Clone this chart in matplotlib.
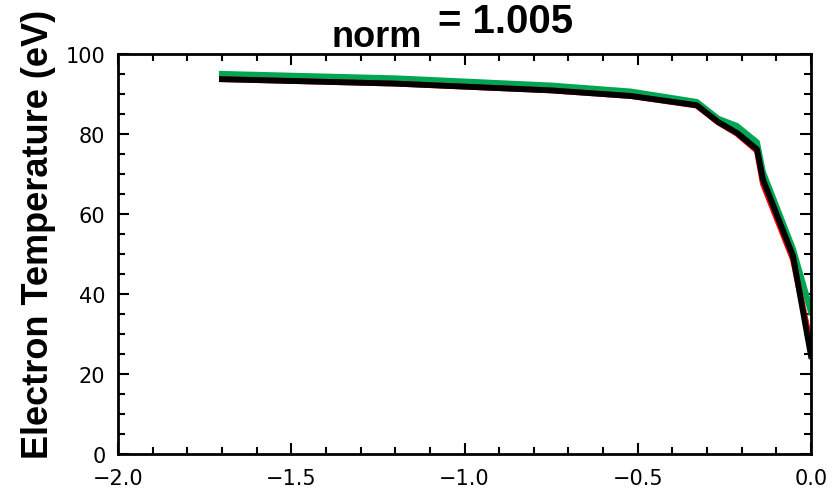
import matplotlib
matplotlib.use('Agg')
import matplotlib.pyplot as plt
from matplotlib.ticker import MultipleLocator
import numpy as np

# profile points (distance, electron temperature in eV)
x = [-1.70, -1.20, -0.75, -0.52, -0.33, -0.268, -0.214, -0.156, -0.139, -0.052, 0.0]
te_green = [95.0, 93.9, 92.1, 90.6, 88.0, 83.8, 82.0, 77.9, 70.5, 51.2, 35.5]
te_red = [93.7, 92.6, 90.9, 89.5, 87.1, 82.9, 80.1, 75.8, 67.6, 48.6, 27.0]
te_black = [93.7, 92.6, 90.9, 89.5, 87.2, 83.0, 80.3, 76.2, 68.7, 49.5, 24.5]

W, H = 834, 489
fig = plt.figure(figsize=(W/100, H/100), dpi=100)
ax = fig.add_axes([118/W, 1-455/H, (811-118)/W, (455-55)/H])

ax.plot(x, te_green, color='#00a651', lw=4.4)
ax.plot(x, te_red, color='#ff0000', lw=4.2)
ax.plot(x, te_black, color='black', lw=4.2)

ax.set_xlim(-2.0, 0.0)
ax.set_ylim(0, 100)
ax.xaxis.set_major_locator(MultipleLocator(0.5))
ax.xaxis.set_minor_locator(MultipleLocator(0.1))
ax.yaxis.set_major_locator(MultipleLocator(20))
ax.yaxis.set_minor_locator(MultipleLocator(5))
ax.xaxis.set_major_formatter(lambda v, p: f'{v:.1f}'.replace('-', '\u2212'))
ax.tick_params(which='both', direction='in', top=True, right=True, width=1.5)
ax.tick_params(which='major', length=8)
ax.tick_params(which='minor', length=5)
ax.tick_params(axis='x', labelsize=15, pad=10)
ax.tick_params(axis='y', labelsize=15, pad=9)
for s in ax.spines.values():
    s.set_linewidth(2)

fig.text(39/W, 1-234/H, 'Electron Temperature (eV)', rotation=90,
         fontsize=26, fontweight='bold', family='Liberation Sans',
         ha='center', va='center')

fig.text(332/W, 1-47/H, 'norm', fontsize=26, fontweight='bold',
         family='Liberation Sans', va='baseline')
fig.text(438/W, 1-33/H, '= 1.005', fontsize=29, fontweight='bold',
         family='Liberation Sans', va='baseline')

fig.savefig('out.png', dpi=100)
